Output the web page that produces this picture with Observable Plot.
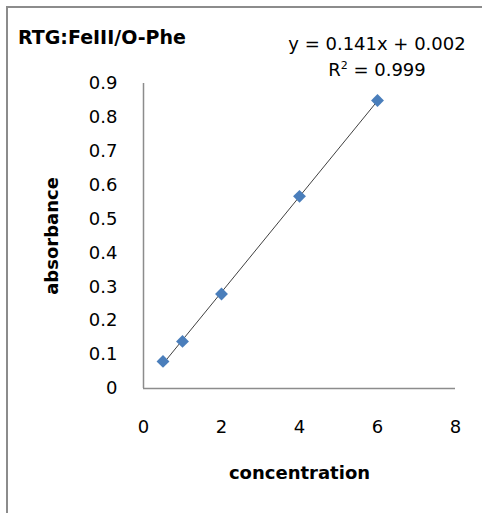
<!DOCTYPE html>
<html>
<head>
<meta charset="utf-8">
<script src="https://cdn.jsdelivr.net/npm/d3@7"></script>
<script src="https://cdn.jsdelivr.net/npm/@observablehq/plot@0.6"></script>
<style>
  html, body { margin: 0; padding: 0; background: #fff; overflow: hidden; }
  #wrap { position: relative; width: 482px; height: 513px; overflow: hidden; font-family: "DejaVu Sans", sans-serif; }
  #frame { position: absolute; left: 6px; top: 6px; width: 500px; height: 540px; border: 2px solid #8c8c8c; box-sizing: border-box; }
  #title { position: absolute; left: 18px; top: 28px; font-size: 19px; line-height: 19px; font-weight: bold; color: #000; white-space: nowrap; }
  #eq { position: absolute; left: 277px; top: 31px; width: 200px; text-align: center; font-size: 18px; line-height: 26px; color: #000; white-space: nowrap; }
  #eq sup { font-size: 11px; vertical-align: 7px; line-height: 0; }
  #chart { position: absolute; left: 0; top: 0; }
  #chart svg [aria-label$="axis label"] text { font-weight: bold; }
</style>
</head>
<body>
<div id="wrap">
  <div id="frame"></div>
  <div id="chart"></div>
  <div id="title">RTG:FeIII/O-Phe</div>
  <div id="eq">y = 0.141x + 0.002<br>R<sup>2</sup> = 0.999</div>
</div>
<script>
const concentration = [0.5, 1, 2, 4, 6];
const absorbance = [0.080, 0.139, 0.279, 0.567, 0.850];
const xTicks = [0, 2, 4, 6, 8];
const yTicks = [0, 0.1, 0.2, 0.3, 0.4, 0.5, 0.6, 0.7, 0.8, 0.9];

const data = concentration.map((c, i) => ({concentration: c, absorbance: absorbance[i]}));

const chart = Plot.plot({
  width: 482,
  height: 513,
  marginLeft: 143,
  marginRight: 27,
  marginTop: 83,
  marginBottom: 125,
  style: {background: "transparent", fontFamily: "'DejaVu Sans', sans-serif", fontSize: "18px", color: "#000"},
  x: {domain: [0, 8], ticks: xTicks, tickSize: 0, tickPadding: 32, label: "concentration", labelAnchor: "center", labelOffset: 90, labelArrow: "none"},
  y: {domain: [0, 0.9], ticks: yTicks, tickSize: 0, tickPadding: 26, tickFormat: d => d === 0 ? "0" : d3.format(".1f")(d), label: "absorbance", labelAnchor: "center", labelOffset: 98, labelArrow: "none"},
  marks: [
    Plot.ruleX([0], {stroke: "#8c8c8c", strokeWidth: 1.5}),
    Plot.ruleY([0], {stroke: "#8c8c8c", strokeWidth: 1.5}),
    Plot.linearRegressionY(data, {x: "concentration", y: "absorbance", ci: 0, stroke: "#404040", strokeWidth: 1}),
    Plot.dot(data, {x: "concentration", y: "absorbance", symbol: "diamond2", r: 5.8, fill: "#4a7ebb", stroke: "none"})
  ]
});
document.getElementById("chart").appendChild(chart);
</script>
</body>
</html>
